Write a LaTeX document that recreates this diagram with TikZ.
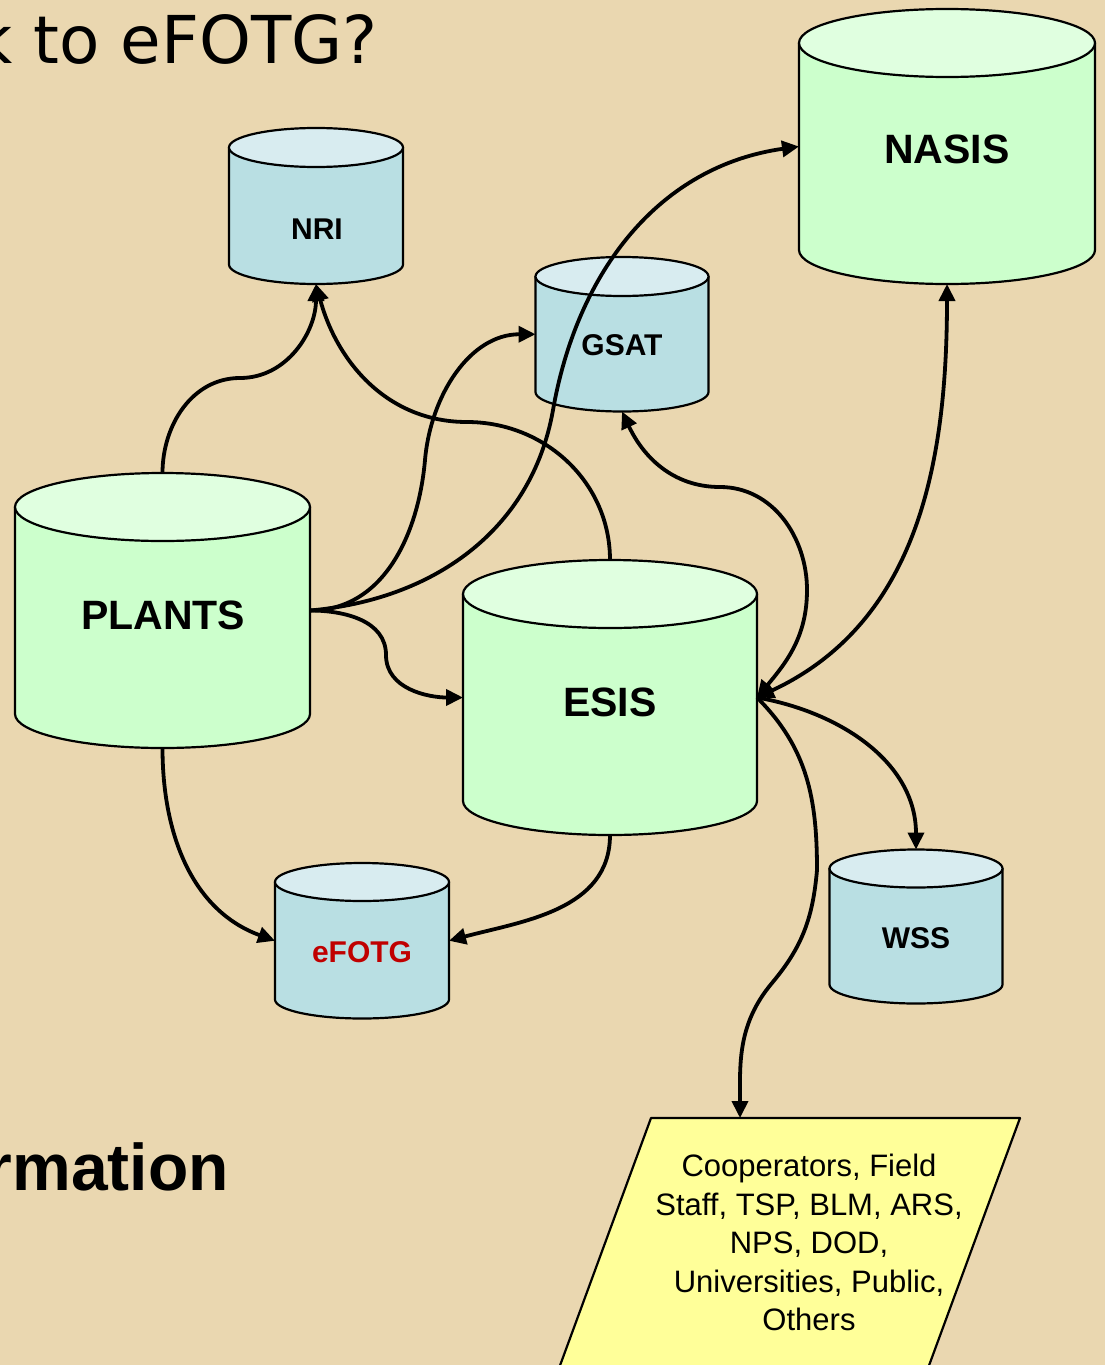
\documentclass[tikz,border=0pt]{standalone}
\usepackage{fontspec}
\setmainfont{Liberation Sans}
\newfontfamily\titlefont{DejaVu Sans}
\usetikzlibrary{arrows.meta,fit}
\definecolor{parch}{RGB}{234,215,176}
\definecolor{gbody}{RGB}{204,255,204}
\definecolor{gtop}{RGB}{224,255,224}
\definecolor{bbody}{RGB}{185,223,227}
\definecolor{btop}{RGB}{216,236,240}
\definecolor{yel}{RGB}{255,255,153}
\definecolor{efred}{RGB}{192,0,0}
\tikzset{
  cylline/.style={line width=2.2pt, draw=black, line join=round},
  conn/.style={line width=3.8pt, -{Triangle[length=17pt,width=16pt]}},
  both/.style={line width=3.8pt, {Triangle[length=17pt,width=16pt]}-{Triangle[length=17pt,width=16pt]}},
  dbbox/.style={inner sep=0pt, outer sep=0pt, draw=none, rectangle},
  biglabel/.style={font=\bfseries\fontsize{41}{41}\selectfont, anchor=base, inner sep=0pt},
  smalllabel/.style={font=\bfseries\fontsize{30}{30}\selectfont, anchor=base, inner sep=0pt},
}
% #1 name, #2 cx, #3 top ellipse centre y, #4 bottom ellipse centre y, #5 rx, #6 ry, #7 colour prefix
\newcommand\dbcyl[7]{%
  \filldraw[cylline, fill=#7body] ({#2-#5},#3) -- ({#2-#5},#4)
     arc[start angle=180, end angle=360, x radius=#5, y radius=#6] -- ({#2+#5},#3) -- cycle;
  \filldraw[cylline, fill=#7top] (#2,#3) ellipse [x radius=#5, y radius=#6];
  \path ({#2-#5},{#3+#6}) coordinate (#1-a) ({#2+#5},{#4-#6}) coordinate (#1-b);
  \node[dbbox, fit=(#1-a)(#1-b)] (#1) {};
}
\begin{document}
\begin{tikzpicture}[x=1pt,y=1pt]
\useasboundingbox (0,0) rectangle (1105,-1365);
\fill[parch] (0,0) rectangle (1105,-1365);
\clip (0,0) rectangle (1105,-1365);

% headings (cut by the slide edge)
\node[font=\titlefont\fontsize{66}{66}\selectfont, anchor=base east, inner sep=0pt] (title) at (378,-63) {k to eFOTG?};
\node[font=\bfseries\fontsize{66}{66}\selectfont, anchor=base east, inner sep=0pt] (info) at (229,-1190) {rmation};

% databases
\dbcyl{nasis}{947}{-43}{-250}{148}{34}{g}
\dbcyl{nri}{316}{-147.5}{-264.5}{87}{19.5}{b}
\dbcyl{gsat}{622}{-276.5}{-392}{86.5}{19.5}{b}
\dbcyl{plants}{162.5}{-507}{-714}{147.5}{34}{g}
\dbcyl{esis}{610}{-594}{-801}{147}{34}{g}
\dbcyl{efotg}{362}{-882}{-999.5}{87}{19}{b}
\dbcyl{wss}{916}{-868.5}{-984.5}{86.5}{19}{b}

\node[biglabel] (nasisl) at (947,-163) {NASIS};
\node[biglabel] (plantsl) at (163,-629) {PLANTS};
\node[biglabel] (esisl) at (610,-716) {ESIS};
\node[smalllabel] (nril) at (317,-239) {NRI};
\node[smalllabel] (gsatl) at (622,-355) {GSAT};
\node[smalllabel, text=efred] (efotgl) at (362,-962) {eFOTG};
\node[smalllabel] (wssl) at (916,-948) {WSS};

% users parallelogram
\filldraw[cylline, fill=yel] (651,-1118) -- (1020,-1118) -- (920,-1390) -- (551,-1390) -- cycle;
\coordinate (cooptop) at (740,-1118);
\node[align=center, font=\fontsize{31}{38.5}\selectfont, anchor=north, inner sep=0pt] (coop) at (809,-1154)
  {Cooperators, Field\\Staff, TSP, BLM, ARS,\\NPS, DOD,\\Universities, Public,\\Others};

% connectors
\draw[conn] (plants.north) to[out=90,in=180] (240,-378) to[out=0,in=-90] (nri.south);
\draw[conn] (esis.north) to[out=90,in=0] (467,-422) to[out=180,in=-75] (nri.south);
\draw[conn] (plants.east) to[out=0,in=-95] (425,-460) to[out=85,in=180] (gsat.west);
\draw[conn] (plants.east) to[out=5,in=-100] (553,-410) to[out=80,in=188] (nasis.west);
\draw[conn] (plants.east) to[out=0,in=90] (386,-655) to[out=-90,in=180] (esis.west);
\draw[conn] (plants.south) to[out=-90,in=160] (efotg.west);
\draw[conn] (esis.south) to[out=-90,in=15] (efotg.east);
\draw[both] (gsat.south) to[out=-65,in=180] (720,-487) to[out=0,in=90] (807,-590) to[out=-90,in=50] (esis.east);
\draw[both] (nasis.south) to[out=-90,in=25] (esis.east);
\draw[conn] (esis.east) to[out=-10,in=90] (wss.north);
\draw[conn] (esis.east) to[out=-45,in=90] (817,-870) to[out=-95,in=50] (772,-983) to[out=230,in=90] (cooptop);
\end{tikzpicture}
\end{document}
